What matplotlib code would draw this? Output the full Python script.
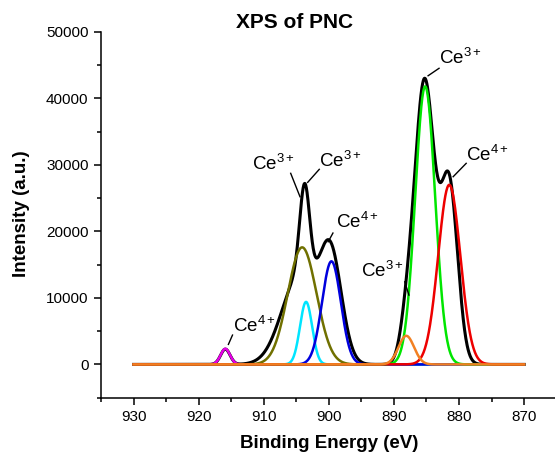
import numpy as np
import matplotlib.pyplot as plt
from matplotlib.ticker import MultipleLocator

plt.rcParams["font.family"] = ["Liberation Sans", "DejaVu Sans"]
plt.rcParams["mathtext.fontset"] = "custom"
plt.rcParams["mathtext.rm"] = "Liberation Sans"
plt.rcParams["mathtext.it"] = "Liberation Sans:italic"
plt.rcParams["mathtext.bf"] = "Liberation Sans:bold"

# fitted components: centre (eV), height (counts), FWHM (eV)
comp_names = ["Ce4+ sat", "v'' broad", "v'' sharp", "v'", "v0", "v", "u"]
comp_colors = ["#e600e6", "#707000", "#00e5ff", "#0000dd", "#f28022", "#00e600", "#ee0000"]
comp_center = [915.9, 904.1, 903.5, 899.6, 888.1, 885.2, 881.5]
comp_height = [2350, 17600, 9400, 15500, 4300, 41800, 27000]
comp_fwhm = [1.7, 5.2, 2.2, 3.4, 2.8, 3.6, 4.0]

# measured envelope (black), described by its own peaks
env_center = [915.9, 904.5, 903.7, 899.7, 888.0, 885.3, 881.5]
env_height = [2300, 13300, 13500, 15600, 5000, 42500, 26700]
env_fwhm = [1.7, 6.4, 1.8, 4.0, 2.4, 3.6, 3.06]

# peak labels: text, text x, text baseline y, leader (x0, y0, x1, y1)
labels = ["Ce$^{3+}$", "Ce$^{4+}$", "Ce$^{3+}$", "Ce$^{3+}$", "Ce$^{4+}$", "Ce$^{3+}$", "Ce$^{4+}$"]
label_x = [883.07, 878.87, 911.84, 901.47, 898.9, 895.12, 914.66]
label_y = [45120, 30620, 29220, 29720, 20450, 13180, 4900]
leaders = [
    (884.75, 43400, 883.07, 44520),
    (880.9, 28220, 878.9, 30230),
    (905.86, 28730, 904.43, 25210),
    (903.25, 27370, 901.47, 29330),
    (900.1, 18440, 899.37, 19750),
    (888.33, 12420, 887.7, 10420),
    (915.43, 3010, 914.8, 4410),
]


def gauss(x, c, h, w):
    return h * np.exp(-4 * np.log(2) * (x - c) ** 2 / w ** 2)


energy = np.linspace(930, 870, 1201)
envelope = sum(gauss(energy, c, h, w) for c, h, w in zip(env_center, env_height, env_fwhm))

fig = plt.figure(figsize=(5.55, 4.55), dpi=100)
ax = fig.add_axes([0.182, 0.126, 0.821, 0.804])

ax.plot(energy, envelope, color="black", lw=2.2, zorder=2)
for c, h, w, col in zip(comp_center, comp_height, comp_fwhm, comp_colors):
    z = 4 if col == "#f28022" else 3
    ax.plot(energy, gauss(energy, c, h, w), color=col, lw=1.8, zorder=z)

for s, tx, ty, (x0, y0, x1, y1) in zip(labels, label_x, label_y, leaders):
    ax.plot([x0, x1], [y0, y1], color="black", lw=1.0, zorder=5)
    ax.text(tx, ty, s, fontsize=13.5, ha="left", va="baseline")

ax.set_xlim(935, 865)
ax.set_ylim(-5000, 50000)
ax.xaxis.set_major_locator(MultipleLocator(10))
ax.xaxis.set_minor_locator(MultipleLocator(5))
ax.yaxis.set_major_locator(MultipleLocator(10000))
ax.yaxis.set_minor_locator(MultipleLocator(5000))
ax.tick_params(which="major", direction="out", length=5, width=1.1, labelsize=11, pad=4)
ax.tick_params(which="minor", direction="out", length=3, width=1.1)
for side in ["top", "right"]:
    ax.spines[side].set_visible(False)
for side in ["left", "bottom"]:
    ax.spines[side].set_linewidth(1.1)

fig.text(295 / 555, 1 - 23 / 455, "XPS of PNC", fontsize=15, weight="bold", ha="center", va="center")
fig.text(329 / 555, 1 - 443 / 455, "Binding Energy (eV)", fontsize=13.5, weight="bold", ha="center", va="center")
fig.text(22 / 555, 1 - 214 / 455, "Intensity (a.u.)", fontsize=13.5, weight="bold", ha="center", va="center", rotation=90)

fig.savefig("out.png", dpi=100)
